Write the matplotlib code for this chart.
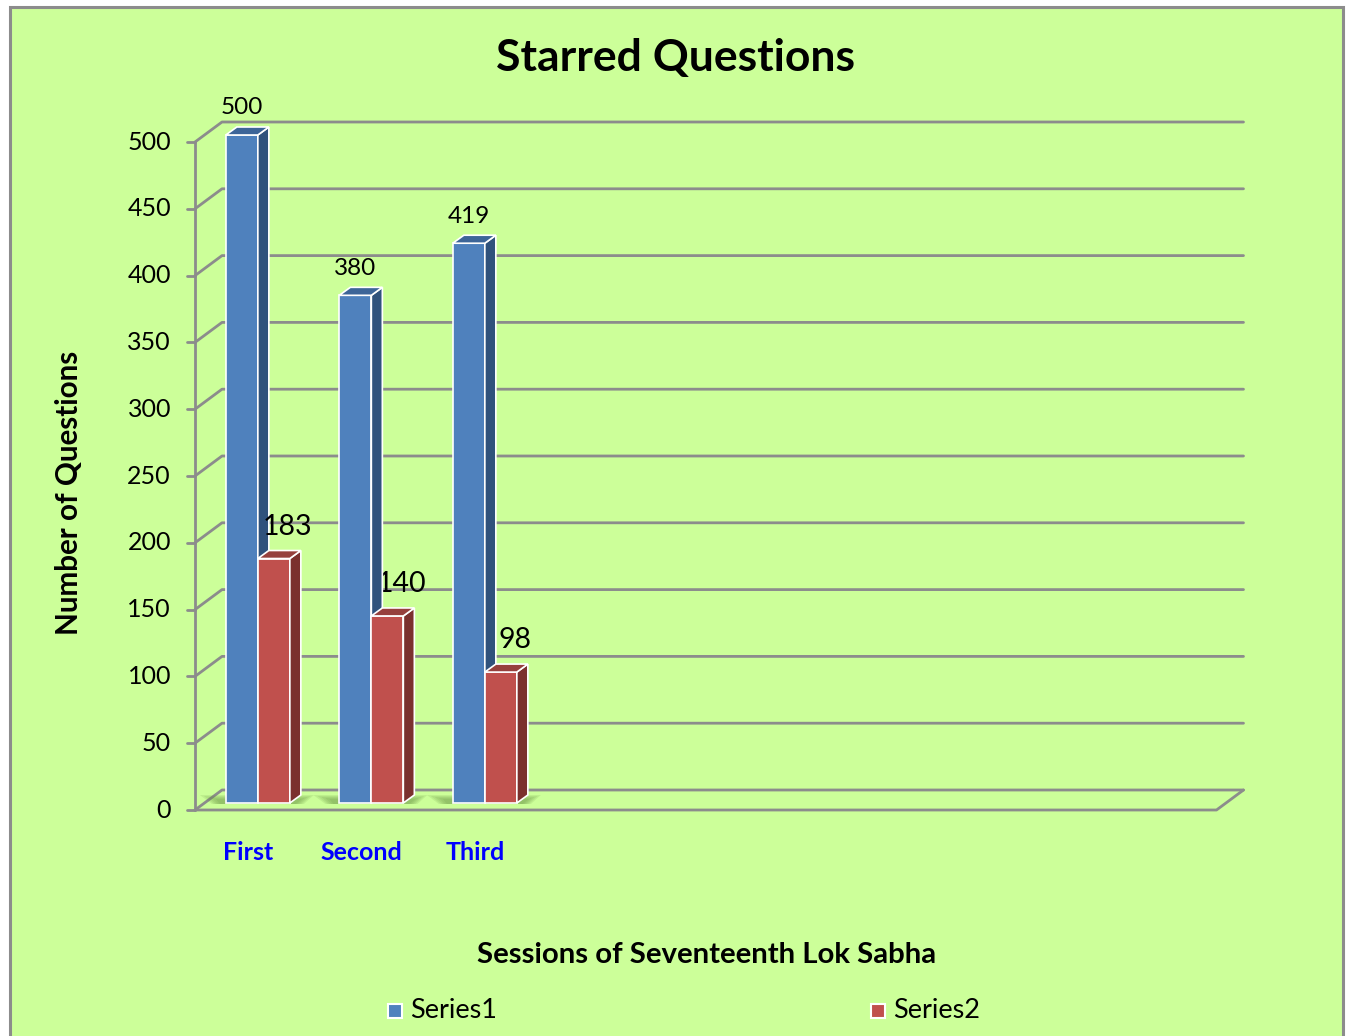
import matplotlib
matplotlib.use("Agg")
import matplotlib.pyplot as plt
from matplotlib.patches import Polygon, Rectangle

sessions = ["First", "Second", "Third"]
series1 = [500, 380, 419]
series2 = [183, 140, 98]
series_names = ["Series1", "Series2"]
yticks = list(range(0, 501, 50))
n_slots = 9  # the original chart keeps room for 9 sessions

plt.rcParams['font.family'] = ['Lato', 'DejaVu Sans']

W, H = 1346, 1036
fig = plt.figure(figsize=(W / 100, H / 100), dpi=100)
fig.patch.set_facecolor("white")
fig.patches.append(Rectangle((10 / W, -0.1), 1333 / W, 1.1 - 7 / H,
                             transform=fig.transFigure, facecolor="#CCFF99",
                             edgecolor="#8C8C8C", lw=2.2, zorder=-5))

# axes = the plane the bars stand in
ax = fig.add_axes([204.5 / W, 233 / H, 1021.5 / W, 668 / H])
xmin, xmax = -0.47, n_slots - 0.47
ax.set_xlim(xmin, xmax)
ax.set_ylim(0, 500)
ax.axis("off")

# pixel -> data helpers for the fake 3d depth
px_x = (xmax - xmin) / 1021.5
px_y = 500 / 668.0


def shift(x, y, dx, dy):
    return (x + dx * px_x, y + dy * px_y)


FRONT = (-9.5, -7)
BACK = (17.5, 13)
grid_kw = dict(color="#8C8C8C", lw=2.0, clip_on=False, solid_capstyle="round")

for v in yticks:
    p0 = shift(xmin, v, *FRONT)
    p1 = shift(xmin, v, *BACK)
    p2 = shift(xmax, v, *BACK)
    ax.plot([p0[0], p1[0], p2[0]], [p0[1], p1[1], p2[1]], zorder=1, **grid_kw)
    t = shift(xmin, v, FRONT[0] - 8, FRONT[1])
    ax.plot([t[0], p0[0]], [t[1], p0[1]], zorder=1, **grid_kw)
    lab = shift(xmin, v, FRONT[0] - 24, FRONT[1])
    ax.text(lab[0], lab[1], str(v), ha="right", va="center", fontsize=18)

# front axis line and floor edge
a = shift(xmin, 0, *FRONT)
b = shift(xmin, 500, *FRONT)
ax.plot([a[0], b[0]], [a[1], b[1]], zorder=1, **grid_kw)
c = shift(xmax, 0, *FRONT)
d = shift(xmax, 0, *BACK)
ax.plot([a[0], c[0], d[0]], [a[1], c[1], d[1]], zorder=1, **grid_kw)

bw = 32 * px_x
sx, sy = 11 * px_x, 8 * px_y
colors = {
    0: ("#4F81BD", "#30527C", "#3D6598"),
    1: ("#C0504D", "#7B302E", "#96403D"),
}


def bar3d(x0, v, cols, z):
    x1 = x0 + bw
    front, side, top = cols
    ax.add_patch(Rectangle((x0, 0), bw, v, facecolor=front, edgecolor="white",
                           lw=1.2, zorder=z, clip_on=False))
    ax.add_patch(Polygon([(x1, 0), (x1, v), (x1 + sx, v + sy), (x1 + sx, sy)],
                         facecolor=side, edgecolor="white", lw=1.2, zorder=z,
                         clip_on=False))
    ax.add_patch(Polygon([(x0, v), (x1, v), (x1 + sx, v + sy), (x0 + sx, v + sy)],
                         facecolor=top, edgecolor="white", lw=1.2, zorder=z,
                         clip_on=False))


for i, name in enumerate(sessions):
    # soft floor shadow, faked with stacked translucent bands
    for k in range(5):
        s0 = shift(i - bw, 0, -26 + 4 * k, 8 - k)
        s1 = shift(i + bw, 0, 24 - 3 * k, 8 - k)
        s2 = shift(i + bw, 0, 14 - 2 * k, -1)
        s3 = shift(i - bw, 0, -14 + 2 * k, -1)
        ax.add_patch(Polygon([s0, s1, s2, s3], facecolor="#5E8A3A", alpha=0.13,
                             edgecolor="none", zorder=2, clip_on=False))
    bar3d(i - bw, series1[i], colors[0], 3 + 2 * i)
    bar3d(i, series2[i], colors[1], 4 + 2 * i)

    t1 = shift(i - bw / 2, series1[i], 0, 27)
    ax.text(t1[0], t1[1], str(series1[i]), ha="center", va="center", fontsize=17.5)
    t2 = shift(i + bw / 2, series2[i], 14, 32)
    ax.text(t2[0], t2[1], str(series2[i]), ha="center", va="center", fontsize=20.5)

    c = shift(i, 0, FRONT[0], -50)
    ax.text(c[0], c[1], name, ha="center", va="center", fontsize=18,
            fontweight="bold", color="#0000FF")

fig.text(676 / W, 1 - 58 / H, "Starred Questions", ha="center", va="center",
         fontsize=32, fontweight="bold")
fig.text(69 / W, 1 - 493 / H, "Number of Questions", ha="center", va="center",
         rotation=90, fontsize=21.3, fontweight="bold")
fig.text(707 / W, 1 - 955 / H, "Sessions of Seventeenth Lok Sabha", ha="center",
         va="center", fontsize=21.2, fontweight="bold")

# legend along the bottom edge
for name, col, lx in zip(series_names, ["#4F81BD", "#C0504D"], [388, 871]):
    fig.patches.append(Rectangle((lx / W, 1 - 1018 / H), 14 / W, 14 / H,
                                 transform=fig.transFigure, facecolor=col,
                                 edgecolor="white", lw=1.5))
    fig.text((lx + 22) / W, 1 - 1011 / H, name, ha="left", va="center",
             fontsize=19.5)

fig.savefig("out.png", dpi=100)
